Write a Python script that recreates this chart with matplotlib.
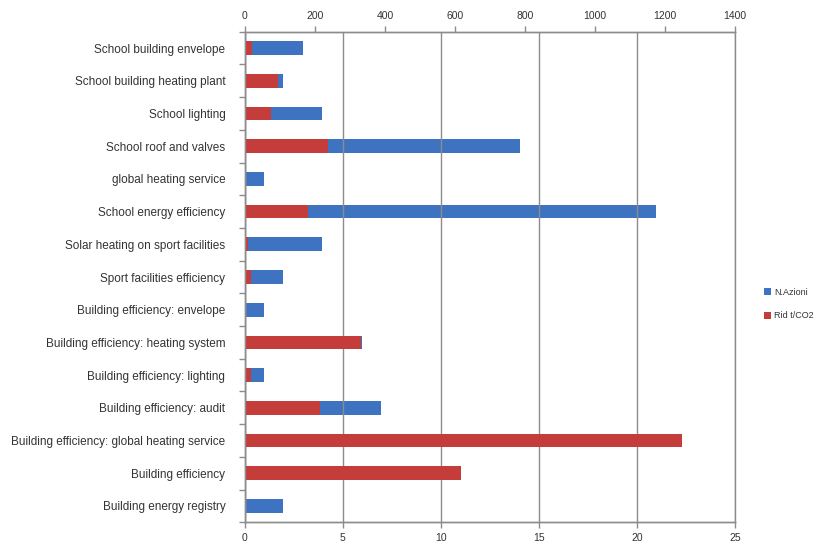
import matplotlib.pyplot as plt
import numpy as np

plt.rcParams['font.family'] = ['Liberation Sans', 'DejaVu Sans']

categories = [
    'School building envelope',
    'School building heating plant',
    'School lighting',
    'School roof and valves',
    'global heating service',
    'School energy efficiency',
    'Solar heating on sport facilities',
    'Sport facilities efficiency',
    'Building efficiency: envelope',
    'Building efficiency: heating system',
    'Building efficiency: lighting',
    'Building efficiency: audit',
    'Building efficiency: global heating service',
    'Building efficiency',
    'Building energy registry',
]
# N.Azioni (top axis)
n_azioni = [165, 110, 220, 785, 55, 1175, 220, 110, 55, 335, 55, 390, 0, 0, 110]
# Rid t/CO2 (bottom axis)
rid_co2 = [0.35, 1.7, 1.35, 4.25, 0, 3.2, 0.15, 0.3, 0, 5.9, 0.3, 3.85, 22.3, 11.0, 0]

blue = '#3E73C2'
red = '#C43D3B'
grey = '#8C8C8C'
txt = '#333333'

fig = plt.figure(figsize=(8.27, 5.48), dpi=100)
ax = fig.add_axes([0.296, 0.047, 0.593, 0.895])
ax2 = ax.twiny()

y = np.arange(len(categories))

ax2.barh(y, n_azioni, height=0.42, color=blue, label='N.Azioni')
ax.barh(y, rid_co2, height=0.42, color=red, label='Rid t/CO2')

# red bars over blue
ax.set_zorder(ax2.get_zorder() + 1)
ax.patch.set_visible(False)

ax.set_xlim(0, 25)
ax2.set_xlim(0, 1400)
ax.set_xticks(np.arange(0, 26, 5))
ax2.set_xticks(np.arange(0, 1401, 200))
ax.set_ylim(len(categories) - 0.5, -0.5)
ax.set_yticks(y)
ax.set_yticklabels(categories)
ax.set_yticks(np.arange(-0.5, len(categories), 1), minor=True)

ax.grid(axis='x', color=grey, linewidth=1)
ax.set_axisbelow(True)

for a in (ax, ax2):
    for s in a.spines.values():
        s.set_color(grey)
        s.set_linewidth(1)
    a.tick_params(axis='x', colors=grey, labelcolor=txt, labelsize=7.5, length=4, width=1)
ax2.spines['right'].set_visible(False)
ax.tick_params(axis='y', which='major', length=0, labelsize=8.5, labelcolor=txt, pad=14)
ax.tick_params(axis='y', which='minor', length=4, color=grey, width=1)
ax2.tick_params(axis='y', length=0)

h1, l1 = ax2.get_legend_handles_labels()
h2, l2 = ax.get_legend_handles_labels()
fig.legend(h1 + h2, l1 + l2, loc='center left', bbox_to_anchor=(0.914, 0.445),
           frameon=False, fontsize=6.5, handlelength=0.8, handleheight=0.8,
           handletextpad=0.3, labelspacing=1.6, labelcolor=txt)

fig.savefig('out.png', dpi=100)
